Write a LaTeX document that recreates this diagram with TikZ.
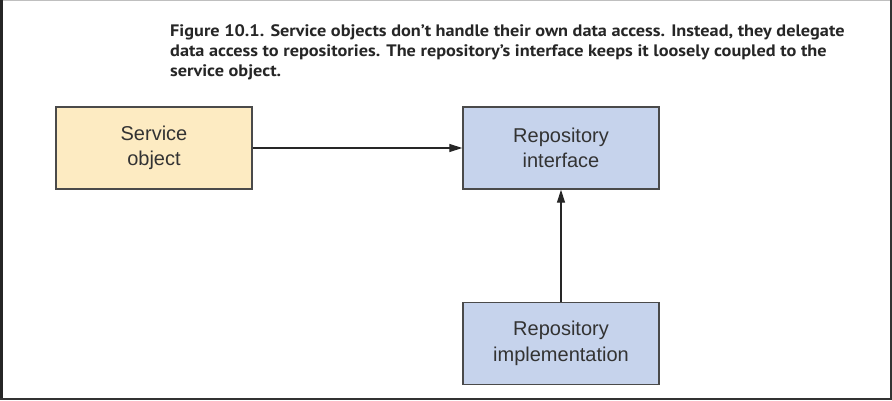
\documentclass[tikz,border=0pt]{standalone}
\usepackage{fontspec}
\setmainfont{Liberation Sans}
\newfontfamily\capfont[FakeStretch=1.1]{PT Sans}
\usetikzlibrary{arrows.meta}
\definecolor{svcfill}{HTML}{FDEBC2}
\definecolor{repofill}{HTML}{C6D3EC}
\definecolor{edge}{HTML}{4A4A4A}
\definecolor{txt}{HTML}{333333}
\definecolor{captxt}{HTML}{262626}
\tikzset{
  box/.style={draw=edge, line width=1.4pt, minimum width=196pt, minimum height=82pt, inner sep=0pt,
    align=center, text=txt, font=\fontsize{20}{25.5}\selectfont},
  conn/.style={draw=black!85, line width=1.1pt, -{Triangle[length=13pt,width=8pt]}},
  captionline/.style={anchor=base west, inner sep=0pt, text=captxt, font=\capfont\bfseries\fontsize{16.6}{20}\selectfont}
}
\begin{document}
\begin{tikzpicture}[x=1pt,y=-1pt]
\useasboundingbox (0,0) rectangle (892,400);
\fill[white] (0,0) rectangle (892,400);
% screen frame
\draw[black!25, line width=1pt] (0,0.5) -- (892,0.5);
\fill[black!85] (0,0) rectangle (3,400);
\fill[black!80] (0,398) rectangle (892,400);
\fill[black!80] (890,0) rectangle (892,400);
% caption
\node[captionline] (cap1) at (170,36) {Figure 10.1. Service objects don’t handle their own data access. Instead, they delegate};
\node[captionline] (cap2) at (170,56) {data access to repositories. The repository’s interface keeps it loosely coupled to the};
\node[captionline] (cap3) at (170,76) {service object.};
% boxes
\node[box, fill=svcfill] (svc) at (154,148) {Service\\object};
\node[box, fill=repofill] (iface) at (561,148) {Repository\\interface};
\node[box, fill=repofill] (impl) at (561,343.5) {Repository\\implementation};
% connectors
\draw[conn] (svc.east) -- (iface.west);
\draw[conn] (impl.north) -- (iface.south);
\end{tikzpicture}
\end{document}
